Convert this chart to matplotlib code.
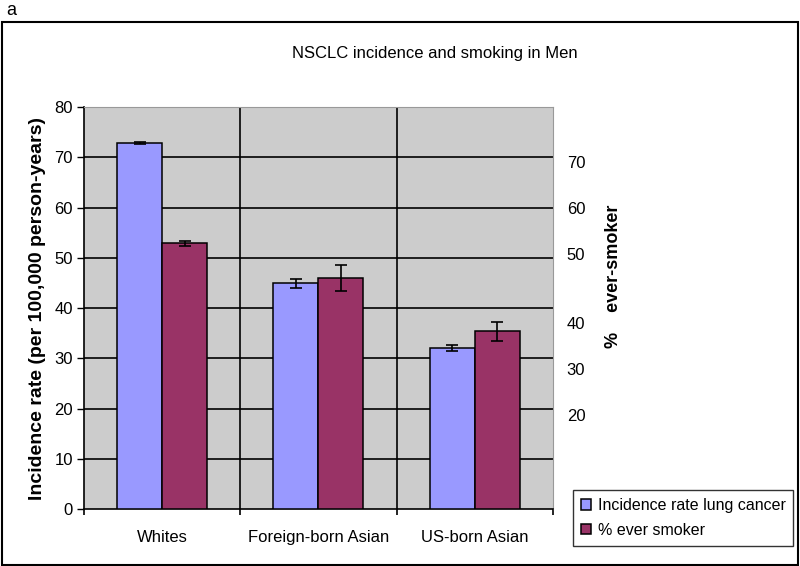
import numpy as np
import matplotlib.pyplot as plt
from matplotlib.patches import Rectangle

plt.rcParams['font.family'] = ['Liberation Sans', 'DejaVu Sans']

# DATOS
groups = ['Whites', 'Foreign-born Asian', 'US-born Asian']
incidence = [72.9, 44.9, 32.0]
incidence_err = [0.2, 0.9, 0.6]
smokers = [52.9, 45.9, 35.4]
smokers_err = [0.5, 2.6, 1.9]

left_ticks = [0, 10, 20, 30, 40, 50, 60, 70, 80]
# etiquetas del eje derecho (colocadas a mano en el original)
right_labels = ['70', '60', '50', '40', '30', '20']
right_pos = [69.0, 59.9, 50.7, 37.0, 27.9, 18.7]

blue = '#9999ff'
maroon = '#993366'
gray = '#cccccc'

fig = plt.figure(figsize=(8, 5.66), dpi=100)
ax = fig.add_axes([0.105, 0.1007, 0.586, 0.710])
ax.set_facecolor(gray)

x = np.arange(len(groups))
w = 0.288
ax.bar(x - w/2, incidence, w, color=blue, edgecolor='black', linewidth=1.1,
       yerr=incidence_err, capsize=4, error_kw=dict(elinewidth=1.2, capthick=1.2),
       label='Incidence rate lung cancer', zorder=3)
ax.bar(x + w/2, smokers, w, color=maroon, edgecolor='black', linewidth=1.1,
       yerr=smokers_err, capsize=4, error_kw=dict(elinewidth=1.2, capthick=1.2),
       label='% ever smoker', zorder=3)

ax.set_xlim(-0.5, len(groups) - 0.5)
ax.set_ylim(0, 80)
ax.set_yticks(left_ticks)
ax.tick_params(axis='y', labelsize=12, length=5, width=1, direction='out', pad=3)
for t in left_ticks[1:-1]:
    ax.axhline(t, color='black', linewidth=1.2, zorder=1)
for s in x[:-1] + 0.5:
    ax.axvline(s, color='black', linewidth=1.2, zorder=1)

ax.set_xticks(x)
ax.set_xticklabels(groups, fontsize=12)
ax.set_xticks(np.arange(len(groups) + 1) - 0.5, minor=True)
ax.tick_params(axis='x', which='major', length=0, pad=15)
ax.tick_params(axis='x', which='minor', length=4, width=1.2)

for side in ['top', 'right']:
    ax.spines[side].set_color('#999999')
for side in ['left', 'bottom']:
    ax.spines[side].set_color('black')
    ax.spines[side].set_linewidth(1.2)

ax.set_ylabel('Incidence rate (per 100,000 person-years)', fontsize=14,
              fontweight='bold', labelpad=6)

# eje derecho
ax2 = ax.twinx()
ax2.set_ylim(0, 80)
ax2.set_yticks(right_pos)
ax2.set_yticklabels(right_labels, fontsize=12)
ax2.tick_params(axis='y', length=0, pad=10)
for sp in ax2.spines.values():
    sp.set_visible(False)
ax2.set_ylabel('%    ever-smoker', fontsize=13, fontweight='bold')
ax2.yaxis.set_label_coords(1.112, 0.58)

fig.text(0.544, 0.906, 'NSCLC incidence and smoking in Men', fontsize=12,
         ha='center', va='center')
fig.text(0.008, 0.997, 'a', fontsize=13, ha='left', va='top')

# marco de la figura
fig.patches.append(Rectangle((0.003, 0.002), 0.994, 0.959, transform=fig.transFigure,
                             fill=False, edgecolor='black', linewidth=1.5))

ax.legend(loc='upper left', bbox_to_anchor=(0.716, 1 - 490/566), bbox_transform=fig.transFigure,
          fontsize=11.5, frameon=True, fancybox=False, edgecolor='black',
          handlelength=0.65, handleheight=0.65, handletextpad=0.4, borderpad=0.5,
          labelspacing=0.6, borderaxespad=0)

fig.savefig('out.png', dpi=100)
